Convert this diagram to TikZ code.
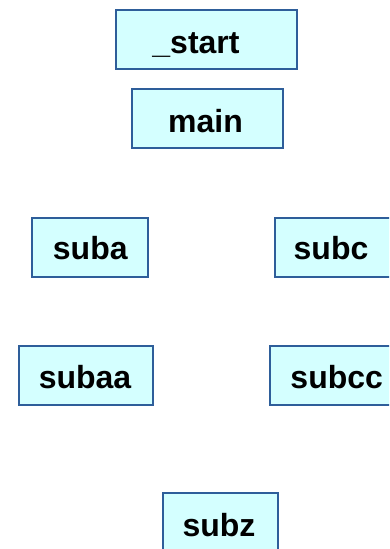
\documentclass[tikz,border=0pt]{standalone}
\usepackage{fontspec}
\setmainfont{Liberation Sans}
\begin{document}
\begin{tikzpicture}[x=1pt,y=-1pt,
  fn/.style={draw=boxblue, fill=boxfill, line width=1.8pt, inner sep=0pt,
    minimum height=59pt},
  fname/.style={anchor=base, inner sep=0pt, text=black,
    font=\fontsize{32}{32}\selectfont\bfseries}]
\definecolor{boxblue}{HTML}{2E5E9A}
\definecolor{boxfill}{HTML}{D4FFFF}
\useasboundingbox (0,0) rectangle (389,549);
\clip (0,0) rectangle (389,549);
% function boxes
\node[fn, minimum width=181pt] (start) at (206.5,39.5) {};
\node[fn, minimum width=151pt] (main) at (207.5,118.5) {};
\node[fn, minimum width=116pt] (suba) at (90,247.5) {};
\node[fn, minimum width=116pt] (subc) at (333,247.5) {};
\node[fn, minimum width=134pt] (subaa) at (86,375.5) {};
\node[fn, minimum width=134pt] (subcc) at (337,375.5) {};
\node[fn, minimum width=115pt] (subz) at (220.5,522.5) {};
% function names, set on their baselines
\node[fname] (start-name) at (196,53.5) {\_start};
\node[fname] (main-name) at (205.5,132.7) {main};
\node[fname] (suba-name) at (90.3,259.5) {suba};
\node[fname] (subc-name) at (331,259.5) {subc};
\node[fname] (subaa-name) at (85,388.5) {subaa};
\node[fname] (subcc-name) at (336.7,388.5) {subcc};
\node[fname] (subz-name) at (219,536.7) {subz};
\end{tikzpicture}
\end{document}
